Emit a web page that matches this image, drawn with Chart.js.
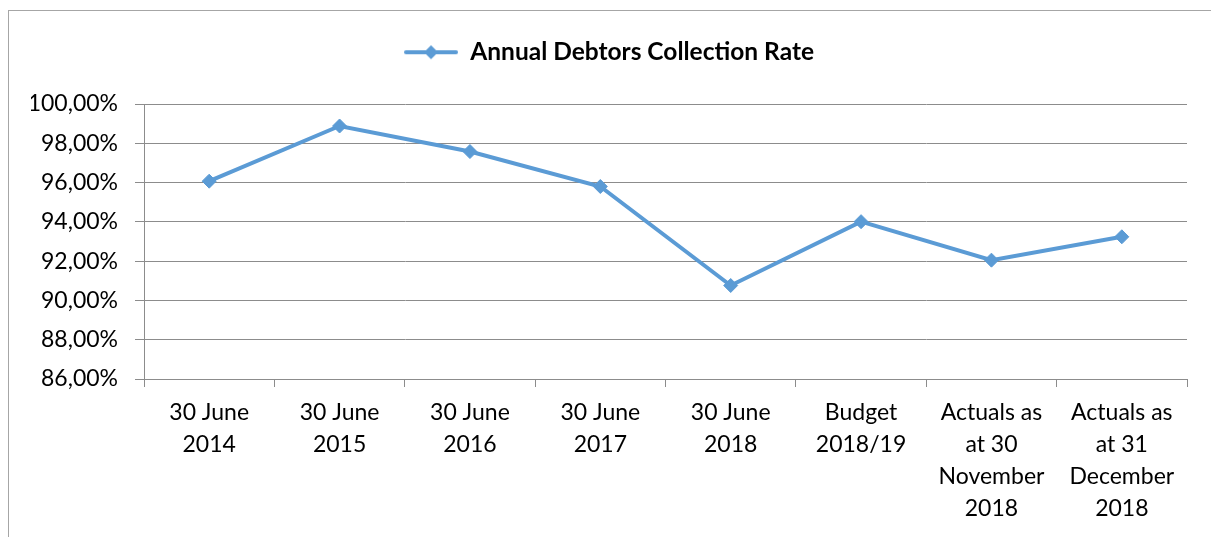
<!DOCTYPE html>
<html>
<head>
<meta charset="utf-8">
<script src="https://cdn.jsdelivr.net/npm/chart.js@4/dist/chart.umd.min.js"></script>
<style>
  html, body { margin: 0; padding: 0; background: #ffffff; overflow: hidden; }
  #frame { position: absolute; left: 8px; top: 10px; width: 1300px; height: 700px; border: 1px solid #a6a6a6; box-sizing: border-box; }
  #wrap { position: absolute; left: 0; top: 0; width: 1211px; height: 537px; }
</style>
</head>
<body>
<div id="frame"></div>
<div id="wrap"><canvas id="c"></canvas></div>
<script>
const categories = [
  ['30 June', '2014'],
  ['30 June', '2015'],
  ['30 June', '2016'],
  ['30 June', '2017'],
  ['30 June', '2018'],
  ['Budget', '2018/19'],
  ['Actuals as', 'at 30', 'November', '2018'],
  ['Actuals as', 'at 31', 'December', '2018']
];
const collectionRate = [96.07, 98.88, 97.58, 95.80, 90.76, 94.01, 92.05, 93.24];
const seriesName = 'Annual Debtors Collection Rate';
const yMin = 86;
const yMax = 100;
const yStep = 2;

const lineColor = '#5B9BD5';
const gridColor = '#8c8c8c';

// legend symbol: line with diamond
const sym = document.createElement('canvas');
sym.width = 54; sym.height = 20;
(function () {
  const g = sym.getContext('2d');
  g.strokeStyle = lineColor; g.lineWidth = 4; g.lineCap = 'round';
  g.beginPath(); g.moveTo(2, 10); g.lineTo(52, 10); g.stroke();
  g.fillStyle = lineColor;
  g.beginPath(); g.moveTo(27, 3); g.lineTo(34, 10); g.lineTo(27, 17); g.lineTo(20, 10); g.closePath(); g.fill();
})();

const legendGap = {
  id: 'legendGap',
  beforeLayout(chart) {
    const lg = chart.legend;
    if (lg && !lg.__gap) {
      const orig = lg.fit;
      lg.fit = function () { orig.call(this); this.height += 29.5; };
      lg.__gap = true;
    }
  }
};

new Chart(document.getElementById('c'), {
  type: 'line',
  data: {
    labels: categories,
    datasets: [{
      label: seriesName,
      data: collectionRate,
      borderColor: lineColor,
      backgroundColor: lineColor,
      borderWidth: 4,
      tension: 0,
      pointStyle: 'rectRot',
      pointRadius: 7,
      pointHoverRadius: 7,
      pointBackgroundColor: lineColor,
      pointBorderColor: lineColor,
      pointBorderWidth: 1
    }]
  },
  options: {
    responsive: true,
    maintainAspectRatio: false,
    animation: false,
    layout: { padding: { top: 30, right: 24, bottom: 0, left: 31 } },
    plugins: {
      legend: {
        display: true,
        position: 'top',
        labels: {
          usePointStyle: true,
          pointStyle: sym,
          pointStyleWidth: 54,
          padding: 10,
          color: '#000000',
          font: { family: 'Lato', size: 24.5, weight: 'bold' }
        }
      },
      tooltip: { enabled: false }
    },
    scales: {
      x: {
        offset: true,
        grid: { offset: true, drawOnChartArea: false, color: gridColor, tickLength: 8 },
        border: { color: gridColor, width: 1 },
        ticks: {
          autoSkip: false, maxRotation: 0, minRotation: 0, padding: 10,
          color: '#000000',
          font: { family: 'Lato', size: 23, lineHeight: 1.39 }
        },
        afterFit(scale) { scale.height = 158; }
      },
      y: {
        min: yMin, max: yMax,
        grid: { color: gridColor, tickLength: 9 },
        border: { color: gridColor, width: 1 },
        ticks: {
          stepSize: yStep, padding: 17, color: '#000000',
          font: { family: 'Lato', size: 23 },
          callback: v => v.toFixed(2).replace('.', ',') + '%'
        },
        afterFit(scale) { scale.width = 113; }
      }
    }
  },
  plugins: [legendGap]
});
</script>
</body>
</html>
